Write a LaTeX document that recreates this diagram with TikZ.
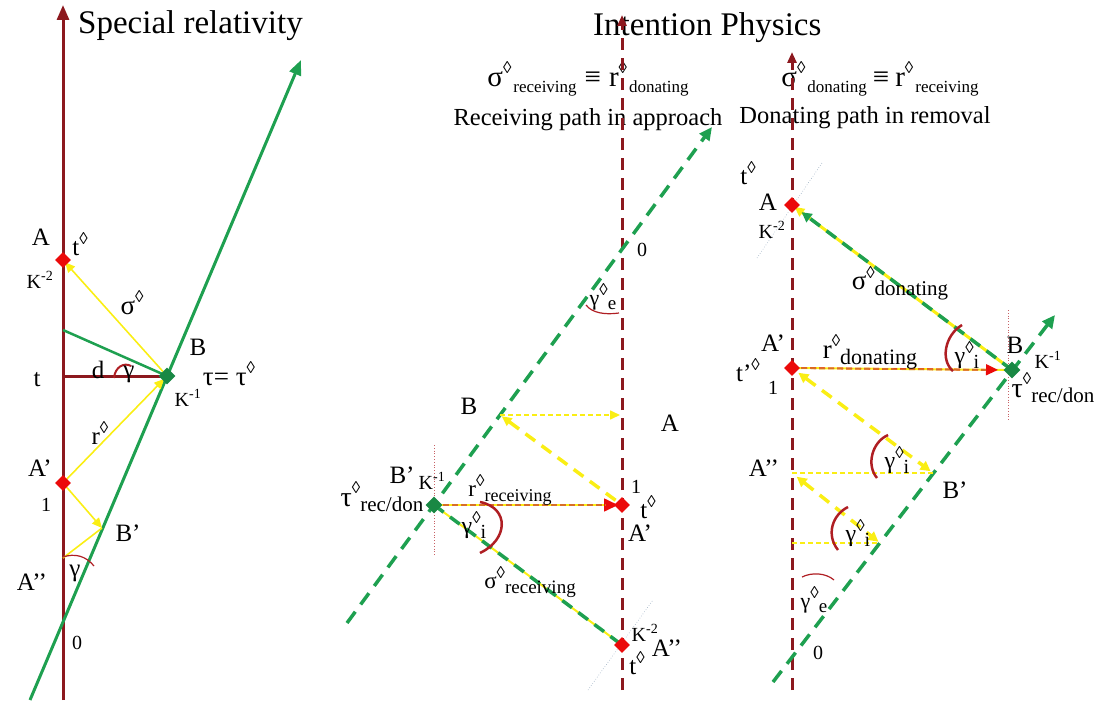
\documentclass[tikz,border=0pt]{standalone}
\usepackage{fontspec}
\setmainfont{Liberation Serif}
\usetikzlibrary{arrows.meta,positioning,shapes.geometric,calc}
\definecolor{axisred}{RGB}{140,24,30}
\definecolor{wlgreen}{RGB}{30,160,80}
\definecolor{sigyellow}{RGB}{250,238,20}
\definecolor{dotred}{RGB}{235,10,10}
\definecolor{angred}{RGB}{175,30,35}
\definecolor{rorange}{RGB}{215,110,40}
\definecolor{guidegrey}{RGB}{150,170,190}
\newcommand{\lozup}{\raisebox{0.95ex}{\fontsize{17}{17}\selectfont ◊}}
\newcommand{\subtxt}[2][19]{\raisebox{-0.45ex}{\fontsize{#1}{#1}\selectfont #2}}
\tikzset{
  diag/.style={x=1pt,y=-1pt},
  timeaxis/.style={axisred,line width=3pt,-{Triangle[length=15pt,width=12pt]}},
  dtimeaxis/.style={axisred,line width=3pt,dash pattern=on 12pt off 8pt,
    -{Triangle[length=11pt,width=9pt]}},
  wline/.style={wlgreen,line width=3pt},
  dwline/.style={wlgreen,line width=3.5pt,dash pattern=on 14pt off 9pt},
  sig/.style={sigyellow,line width=1.6pt},
  dsig/.style={sigyellow,line width=3.5pt,dash pattern=on 12pt off 8pt},
  fsig/.style={sigyellow,line width=1.6pt,dash pattern=on 5pt off 3pt},
  rline/.style={rorange,line width=1.6pt,dash pattern=on 6pt off 3pt},
  ytip/.style={-{Triangle[length=10pt,width=9pt]}},
  ang/.style={angred,line width=2pt},
  guide/.style={guidegrey,line width=0.6pt,dotted},
  vguide/.style={angred!70,line width=0.8pt,dotted},
  rdot/.style={diamond,fill=dotred,inner sep=0pt,minimum size=16pt},
  gdot/.style={diamond,fill=wlgreen!85!black,inner sep=0pt,minimum size=17pt},
  ttl/.style={font=\fontsize{33}{35}\selectfont,inner sep=0pt},
  hdr/.style={font=\fontsize{29}{31}\selectfont,inner sep=0pt},
  pathtxt/.style={font=\fontsize{24.5}{26}\selectfont,inner sep=0pt},
  lbl/.style={font=\fontsize{25}{27}\selectfont,inner sep=0pt},
  sml/.style={font=\fontsize{20}{22}\selectfont,inner sep=0pt},
}

\begin{document}
\begin{tikzpicture}[diag]
  \useasboundingbox (0,0) rectangle (1105,709);
  % special relativity
  \coordinate (Lbot) at (63,700);
  \coordinate (Ltop) at (63,5);
  \coordinate (Gs) at (30,700);
  \coordinate (Ge) at (301,60);
  \coordinate (A) at (63,260);
  \coordinate (B) at (167,376);
  \coordinate (A1) at (63,483);
  \coordinate (B1) at (102,528);
  \coordinate (A2) at (63,558);
  \coordinate (C) at (63,330);
  \coordinate (T) at (63,376);
  \node[ttl,anchor=west] (srtitle) at (78,26) {Special relativity};
  \draw[timeaxis] (Lbot) -- (Ltop);
  \draw[wline,-{Triangle[length=15pt,width=12pt]}] (Gs) -- (Ge);
  \draw[wlgreen,line width=2.5pt] (C) -- (B);
  \draw[axisred,line width=3pt] (T) -- (B);
  \draw[sig,ytip,shorten <=6pt,shorten >=3pt] (B) -- (A);
  \draw[sig,ytip,shorten >=4pt] (A1) -- (B);
  \draw[sig,ytip] (A1) -- (B1);
  \draw[sig] (B1) -- (A2);
  \draw[ang] (114,378) .. controls (115,367) and (124,362) .. (131,366);
  \draw[ang,line width=1.2pt] (63,557) .. controls (75,553) and (86,556) .. (94,566);
  \node[rdot] (Ad) at (A) {};
  \node[gdot] (Bd) at (B) {};
  \node[rdot] (A1d) at (A1) {};
  \node[lbl] (lA) at (41,237) {A};
  \node[lbl] (ltA) at (80,244) {t\lozup};
  \node[sml] (lKA) at (40,280) {K\textsuperscript{-2}};
  \node[lbl,font=\fontsize{27}{29}\selectfont] (lsig) at (132,303) {σ\lozup};
  \node[lbl] (lB) at (198,347) {B};
  \node[lbl] (lt) at (37,380) {t};
  \node[lbl] (ld) at (98,370) {d};
  \node[lbl] (lgam) at (129,374) {γ};
  \node[lbl,font=\fontsize{27}{29}\selectfont] (ltau) at (229,374) {τ= τ\lozup};
  \node[sml] (lKB) at (188,398) {K\textsuperscript{-1}};
  \node[lbl] (lr) at (100,433) {r\lozup};
  \node[lbl] (lA1) at (40,468) {A’};
  \node[sml] (l1) at (46,505) {1};
  \node[lbl] (lB1) at (128,533) {B’};
  \node[lbl] (lA2) at (32,582) {A’’};
  \node[lbl] (lgam2) at (75,573) {γ};
  \node[sml] (l0) at (77,643) {0};

  % intention physics, receiving
  \coordinate (MAxB) at (622,690);
  \coordinate (MAxT) at (622,15);
  \coordinate (MGs) at (347,623);
  \coordinate (MGe) at (712,127);
  \coordinate (MB) at (500,415);
  \coordinate (MA) at (622,415);
  \coordinate (MB1) at (434,505);
  \coordinate (MA1) at (622,505);
  \coordinate (MA2) at (622,645);
  \node[ttl,anchor=west] (iptitle) at (593,28) {Intention Physics};
  \node[hdr] (mform) at (588,79) {σ\lozup\hspace{2pt}\subtxt[17]{receiving}\hspace{8pt}≡\hspace{8pt}r\lozup\hspace{2pt}\subtxt[17]{donating}};
  \node[pathtxt] (mpath) at (588,120) {Receiving path in approach};
  \draw[guide] (588,690) -- (653,600);
  \draw[vguide] (MB1) ++(0,-60) -- ++(0,110);
  \draw[dtimeaxis] (MAxB) -- (MAxT);
  \draw[dwline,-{Triangle[length=13pt,width=12pt]}] (MGs) -- (MGe);
  \draw[fsig,ytip,shorten >=2pt] (MB) -- (MA);
  \draw[dsig,ytip,shorten <=8pt,shorten >=2pt] (MA1) -- (MB);
  \draw[sigyellow,line width=2pt] (MB1) -- (MA1);
  \draw[rline,-{Triangle[length=14pt,width=13pt]},dotred,shorten >=4pt] (MB1) -- (MA1);
  \draw[rline] (MB1) -- ($(MA1)+(-16,0)$);
  \draw[sigyellow,line width=2pt] (MB1) -- (MA2);
  \draw[dwline,dash pattern=on 12pt off 8pt] (MB1) -- (MA2);
  \draw[ang,line width=2.5pt] (480,502) .. controls (510,508) and (508,540) .. (480,553);
  \draw[ang,line width=1.2pt] (586,305) .. controls (592,313) and (605,315) .. (619,313);
  \node[gdot] (MB1d) at (MB1) {};
  \node[rdot] (MA1d) at (MA1) {};
  \node[rdot] (MA2d) at (MA2) {};
  \node[sml] (m0) at (642,250) {0};
  \node[lbl,font=\fontsize{22}{24}\selectfont] (mge) at (603,297) {γ\lozup\subtxt[19]{e}};
  \node[lbl] (mlB) at (469,406) {B};
  \node[lbl] (mlA) at (670,423) {A};
  \node[lbl] (mlB1) at (402,475) {B’};
  \node[sml] (mlK1) at (432,481) {K\textsuperscript{-1}};
  \node[lbl,font=\fontsize{28}{30}\selectfont] (mtau) at (382,497) {τ\lozup\subtxt[21]{rec/don}};
  \node[lbl,font=\fontsize{23}{25}\selectfont] (mr) at (510,490) {r\lozup\subtxt[18]{receiving}};
  \node[sml] (ml1) at (636,487) {1};
  \node[lbl] (mlt) at (648,507) {t\lozup};
  \node[lbl] (mlA1) at (640,533) {A’};
  \node[lbl,font=\fontsize{24}{26}\selectfont] (mgi) at (474,525) {γ\lozup\subtxt[20]{i}};
  \node[lbl,font=\fontsize{23}{25}\selectfont] (msig) at (530,582) {σ\lozup\subtxt[19]{receiving}};
  \node[sml] (mlK2) at (645,633) {K\textsuperscript{-2}};
  \node[lbl] (mlt2) at (637,663) {t\lozup};
  \node[lbl] (mlA2) at (667,648) {A’’};

  % intention physics, donating
  \coordinate (RAxB) at (792,690);
  \coordinate (RAxT) at (792,52);
  \coordinate (RGs) at (773,682);
  \coordinate (RGe) at (1055,315);
  \coordinate (RA) at (792,205);
  \coordinate (RB) at (1012,370);
  \coordinate (RA1) at (792,368);
  \coordinate (RB1) at (933,473);
  \coordinate (RA2) at (792,473);
  \coordinate (RB2) at (880,543);
  \coordinate (RA3) at (792,543);
  \node[hdr] (rform) at (880,79) {σ\lozup\hspace{2pt}\subtxt[17]{donating}\hspace{6pt}≡\hspace{6pt}r\lozup\hspace{2pt}\subtxt[17]{receiving}};
  \node[pathtxt] (rpath) at (865,118) {Donating path in removal};
  \draw[guide] (757,258) -- (822,163);
  \draw[vguide] (1008,310) -- (1008,420);
  \draw[dtimeaxis] (RAxB) -- (RAxT);
  \draw[dwline,-{Triangle[length=13pt,width=12pt]}] (RGs) -- (RGe);
  \draw[sigyellow,line width=3pt,ytip,shorten >=3pt] (RB) -- (RA);
  \draw[dwline,dash pattern=on 12pt off 8pt,-{Triangle[length=10pt,width=10pt]},shorten >=12pt] (RB) -- (RA);
  \draw[sigyellow,line width=2pt] (RA1) -- (RB);
  \draw[rline,-{Triangle[length=12pt,width=11pt]},dotred,shorten >=14pt] (RA1) -- (RB);
  \draw[rline] (RA1) -- ($(RB)+(-26,0)$);
  \draw[dsig,{Triangle[length=10pt,width=10pt]}-{Triangle[length=10pt,width=10pt]},shorten <=8pt,shorten >=3pt] (RA1) -- (RB1);
  \draw[fsig] (RA2) -- (RB1);
  \draw[dsig,{Triangle[length=10pt,width=10pt]}-{Triangle[length=10pt,width=10pt]},shorten <=6pt,shorten >=2pt] (RA2) -- (RB2);
  \draw[fsig] (RA3) -- (RB2);
  \draw[ang,line width=2.5pt] (962,325) .. controls (945,335) and (940,360) .. (953,371);
  \draw[ang,line width=2.5pt] (888,435) .. controls (872,442) and (866,465) .. (877,478);
  \draw[ang,line width=2.5pt] (848,507) .. controls (832,515) and (826,535) .. (838,550);
  \draw[ang,line width=1.2pt] (802,577) .. controls (812,572) and (826,573) .. (834,580);
  \node[rdot] (RAd) at (RA) {};
  \node[gdot] (RBd) at (RB) {};
  \node[rdot] (RA1d) at (RA1) {};
  \node[lbl] (rlt) at (748,173) {t\lozup};
  \node[lbl] (rlA) at (768,202) {A};
  \node[sml] (rlK2) at (772,230) {K\textsuperscript{-2}};
  \node[lbl,font=\fontsize{27}{29}\selectfont] (rsig) at (900,283) {σ\lozup\subtxt[21]{donating}};
  \node[lbl] (rlA1) at (773,343) {A’};
  \node[lbl,font=\fontsize{27}{29}\selectfont] (rr) at (870,352) {r\lozup\subtxt[22]{donating}};
  \node[lbl,font=\fontsize{24}{26}\selectfont] (rgi1) at (967,355) {γ\lozup\subtxt[20]{i}};
  \node[lbl] (rlB) at (1015,345) {B};
  \node[sml] (rlK1) at (1048,360) {K\textsuperscript{-1}};
  \node[lbl,font=\fontsize{28}{30}\selectfont] (rtau) at (1053,388) {τ\lozup\subtxt[21]{rec/don}};
  \node[lbl] (rlt1) at (748,370) {t’\lozup};
  \node[sml] (rl1) at (773,388) {1};
  \node[lbl,font=\fontsize{24}{26}\selectfont] (rgi2) at (897,460) {γ\lozup\subtxt[20]{i}};
  \node[lbl] (rlA2) at (764,468) {A’’};
  \node[lbl] (rlB1) at (955,490) {B’};
  \node[lbl,font=\fontsize{24}{26}\selectfont] (rgi3) at (858,533) {γ\lozup\subtxt[20]{i}};
  \node[lbl,font=\fontsize{22}{24}\selectfont] (rge) at (814,600) {γ\lozup\subtxt[19]{e}};
  \node[sml] (rl0) at (818,653) {0};
\end{tikzpicture}
\end{document}
